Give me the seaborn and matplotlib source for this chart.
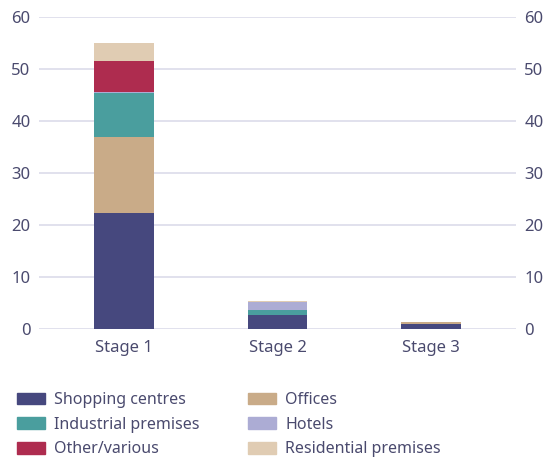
import matplotlib
matplotlib.use("Agg")
import matplotlib.pyplot as plt
import matplotlib.patches as mpatches
import numpy as np
import pandas as pd
import seaborn as sns

# Categories and values (stack order bottom -> top)
stages = ["Stage 1", "Stage 2", "Stage 3"]
shopping_centres = [22.2, 2.7, 0.8]
offices = [14.7, 0.0, 0.4]
industrial_premises = [8.5, 0.9, 0.0]
hotels = [0.3, 1.55, 0.0]
other_various = [5.85, 0.0, 0.0]
residential_premises = [3.45, 0.2, 0.0]
y_ticks = [0, 10, 20, 30, 40, 50, 60]

series = [
    ("Shopping centres", shopping_centres, "#46487e"),
    ("Offices", offices, "#c9ab88"),
    ("Industrial premises", industrial_premises, "#4a9e9e"),
    ("Hotels", hotels, "#acacd4"),
    ("Other/various", other_various, "#ae2c4f"),
    ("Residential premises", residential_premises, "#e0ccb3"),
]

text_color = "#4a4a6e"
grid_color = "#dcdcea"

sns.set_theme(style="white")
plt.rcParams["font.family"] = ["Noto Sans", "DejaVu Sans"]
plt.rcParams["text.color"] = text_color

fig = plt.figure(figsize=(5.53, 4.59), dpi=100)
ax = fig.add_axes([0.0705, 0.2843, 0.8625, 0.6777])

# Stacked bars: draw cumulative totals from the top layer down
values = np.array([s[1] for s in series])
cumulative = np.cumsum(values, axis=0)
for i in range(len(series) - 1, -1, -1):
    df = pd.DataFrame({"stage": stages, "value": cumulative[i]})
    sns.barplot(data=df, x="stage", y="value", color=series[i][2],
                width=0.39, saturation=1, ax=ax, linewidth=0, zorder=3)

ax.set_xlim(-0.555, 2.555)
ax.set_ylim(0, 60)
ax.set_yticks(y_ticks)
ax.set_xlabel("")
ax.set_ylabel("")
ax.grid(axis="y", color=grid_color, linewidth=1.2, zorder=0)
ax.grid(axis="x", visible=False)
for sp in ax.spines.values():
    sp.set_visible(False)

ax.tick_params(axis="y", which="both", length=0, pad=6, labelsize=12,
               labelcolor=text_color, left=False, right=False,
               labelleft=True, labelright=True)
ax.tick_params(axis="x", length=0, pad=8, labelsize=12, labelcolor=text_color)

# Legend in two columns
order = [0, 2, 4, 1, 3, 5]
handles = [mpatches.Patch(color=series[k][2], label=series[k][0]) for k in order]
fig.legend(handles=handles, loc="upper left", bbox_to_anchor=(0.031, 0.146),
           ncol=2, frameon=False, fontsize=11.5, handlelength=1.75,
           handleheight=0.75, handletextpad=0.56, columnspacing=3.05,
           labelspacing=0.54, borderaxespad=0, borderpad=0)

fig.savefig("out.png", dpi=100)
